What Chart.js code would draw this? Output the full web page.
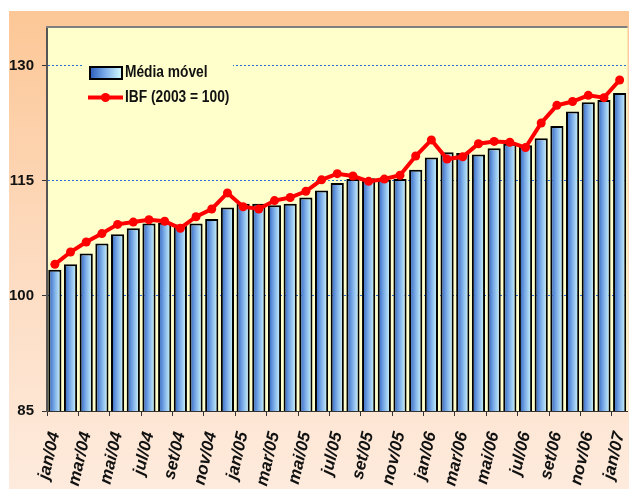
<!DOCTYPE html>
<html>
<head>
<meta charset="utf-8">
<script src="https://cdn.jsdelivr.net/npm/chart.js@4.4.0/dist/chart.umd.min.js"></script>
<style>
  html, body { margin: 0; padding: 0; background: #fff; overflow: hidden; }
  #wrap { width: 632px; height: 489px; }
</style>
</head>
<body>
<div id="wrap"><canvas id="chart" width="632" height="489"></canvas></div>
<script>
// chart data
const months = [
  "jan/04", "fev/04", "mar/04", "abr/04", "mai/04", "jun/04", "jul/04", "ago/04", "set/04", "out/04", "nov/04", "dez/04",
  "jan/05", "fev/05", "mar/05", "abr/05", "mai/05", "jun/05", "jul/05", "ago/05", "set/05", "out/05", "nov/05", "dez/05",
  "jan/06", "fev/06", "mar/06", "abr/06", "mai/06", "jun/06", "jul/06", "ago/06", "set/06", "out/06", "nov/06", "dez/06",
  "jan/07",
];
const mediaMovel = [
  103.4, 104.1, 105.5, 106.8, 108.0, 108.8, 109.4, 109.5, 109.3, 109.4, 110.0, 111.5,
  112.0, 112.0, 111.8, 112.0, 112.8, 113.7, 114.7, 115.2, 115.3, 115.1, 115.2, 116.4,
  118.0, 118.7, 118.6, 118.4, 119.2, 119.8, 119.6, 120.5, 122.1, 124.0, 125.2, 125.5,
  126.4,
];
const ibf = [
  104.1, 105.7, 107.0, 108.1, 109.3, 109.6, 109.9, 109.7, 108.8, 110.3, 111.3, 113.4,
  111.6, 111.3, 112.4, 112.8, 113.6, 115.1, 115.9, 115.6, 114.9, 115.2, 115.7, 118.2,
  120.3, 117.8, 118.1, 119.8, 120.1, 120.0, 119.3, 122.5, 124.8, 125.3, 126.1, 125.8,
  128.1,
];
const yTicks = [85, 100, 115, 130];
const yMin = 85;
const yMax = 135;

const sans = '"Liberation Sans", Arial, sans-serif';
const BAR_PCT = 0.84;

// horizontal blue gradient for a bar centred on cx
function blueGradient(ctx, cx, w) {
  const g = ctx.createLinearGradient(cx - w / 2, 0, cx + w / 2, 0);
  g.addColorStop(0, "#2a5cbc");
  g.addColorStop(0.45, "#78a9e6");
  g.addColorStop(1, "#d4fdff");
  return g;
}

function barFill(context) {
  const chart = context.chart;
  const xs = chart.scales.x;
  if (!xs || context.dataIndex === undefined) return "#6f9fe0";
  const cx = xs.getPixelForValue(context.dataIndex);
  const w = (xs.width / months.length) * BAR_PCT;
  if (!Number.isFinite(cx) || !Number.isFinite(w) || w <= 0) return "#6f9fe0";
  return blueGradient(chart.ctx, cx, w);
}

// narrow-looking bold text: squeeze it a bit horizontally
function squeezedText(ctx, text, x, y, sx) {
  ctx.save();
  ctx.translate(x, y);
  ctx.scale(sx, 1);
  ctx.fillText(text, 0, 0);
  ctx.restore();
}

// backgrounds, plot frame and the legend box
const framePlugin = {
  id: "frame",
  beforeDraw(chart) {
    const { ctx, width, height, chartArea } = chart;
    ctx.save();
    ctx.fillStyle = "#ffffff";
    ctx.fillRect(0, 0, width, height);
    const bg = ctx.createLinearGradient(0, 11, 0, height);
    bg.addColorStop(0, "#fcc796");
    bg.addColorStop(0.55, "#fddcc2");
    bg.addColorStop(1, "#feebdd");
    ctx.fillStyle = bg;
    ctx.fillRect(9, 11, width - 9, height - 11);
    ctx.fillStyle = "#ffffcc";
    ctx.fillRect(chartArea.left, chartArea.top, chartArea.right - chartArea.left, chartArea.bottom - chartArea.top);
    ctx.restore();
  },
  afterDraw(chart) {
    const { ctx, chartArea } = chart;
    ctx.save();
    // top frame line
    ctx.strokeStyle = "#7f7f7f";
    ctx.lineWidth = 2;
    ctx.beginPath();
    ctx.moveTo(chartArea.left - 1, chartArea.top);
    ctx.lineTo(chartArea.right, chartArea.top);
    ctx.stroke();

    // legend
    const ds = chart.data.datasets;
    ctx.fillStyle = "#ffffcc";
    ctx.fillRect(84, 56, 149, 52);

    ctx.fillStyle = blueGradient(ctx, 106, 32);
    ctx.fillRect(90, 67, 32, 12);
    ctx.strokeStyle = "#000";
    ctx.lineWidth = 2;
    ctx.strokeRect(90, 67, 32, 12);

    ctx.strokeStyle = "#ff0000";
    ctx.lineWidth = 4;
    ctx.beginPath();
    ctx.moveTo(88, 97.5);
    ctx.lineTo(123, 97.5);
    ctx.stroke();
    ctx.fillStyle = "#ff0000";
    ctx.beginPath();
    ctx.arc(105.5, 97.5, 4.5, 0, Math.PI * 2);
    ctx.fill();

    ctx.fillStyle = "#111";
    ctx.font = "bold 16px " + sans;
    ctx.textBaseline = "middle";
    ctx.textAlign = "left";
    squeezedText(ctx, ds[1].label, 125, 73, 0.86);
    squeezedText(ctx, ds[0].label, 125, 98, 0.86);
    ctx.restore();
  },
};

const ctx = document.getElementById("chart").getContext("2d");
new Chart(ctx, {
  type: "bar",
  data: {
    labels: months,
    datasets: [
      {
        type: "line",
        label: "IBF (2003 = 100)",
        data: ibf,
        borderColor: "#ff0000",
        backgroundColor: "#ff0000",
        borderWidth: 4,
        pointRadius: 4.5,
        pointBackgroundColor: "#ff0000",
        pointBorderWidth: 0,
        tension: 0,
        order: 0,
      },
      {
        type: "bar",
        label: "Média móvel",
        data: mediaMovel,
        backgroundColor: barFill,
        borderColor: "#000000",
        borderWidth: 2,
        borderSkipped: false,
        barPercentage: BAR_PCT,
        categoryPercentage: 1,
        order: 1,
      },
    ],
  },
  options: {
    responsive: false,
    animation: false,
    layout: { padding: { left: 0, right: 0, top: 27, bottom: 0 } },
    plugins: {
      legend: { display: false },
      tooltip: { enabled: false },
    },
    scales: {
      x: {
        offset: true,
        grid: {
          offset: true,
          drawOnChartArea: false,
          drawTicks: true,
          tickLength: 5,
          tickColor: (c) => (c.index % 2 === 0 ? "#333333" : "rgba(0,0,0,0)"),
        },
        border: { display: true, color: "#333333", width: 1 },
        ticks: {
          autoSkip: false,
          minRotation: 77,
          maxRotation: 77,
          padding: 14,
          color: "#111111",
          font: { family: sans, size: 17, weight: "bold", style: "italic" },
          callback: (v, i) => (i % 2 === 0 ? months[i] : ""),
        },
        afterFit: (scale) => {
          scale.height = 78;
          scale.paddingLeft = 0;
          scale.paddingRight = 0;
        },
      },
      y: {
        min: yMin,
        max: yMax,
        afterBuildTicks: (scale) => { scale.ticks = yTicks.map((v) => ({ value: v })); },
        grid: {
          color: "#2a6fd0",
          lineWidth: 1,
          tickLength: 5,
          tickColor: "#333333",
        },
        border: { display: true, color: "#555555", width: 2, dash: [2, 2] },
        ticks: {
          padding: 8,
          color: "#111111",
          font: { family: sans, size: 15, weight: "bold" },
        },
        afterFit: (scale) => {
          scale.width = 47;
          scale.paddingTop = 0;
          scale.paddingBottom = 0;
        },
      },
    },
  },
  plugins: [framePlugin],
});
</script>
</body>
</html>
